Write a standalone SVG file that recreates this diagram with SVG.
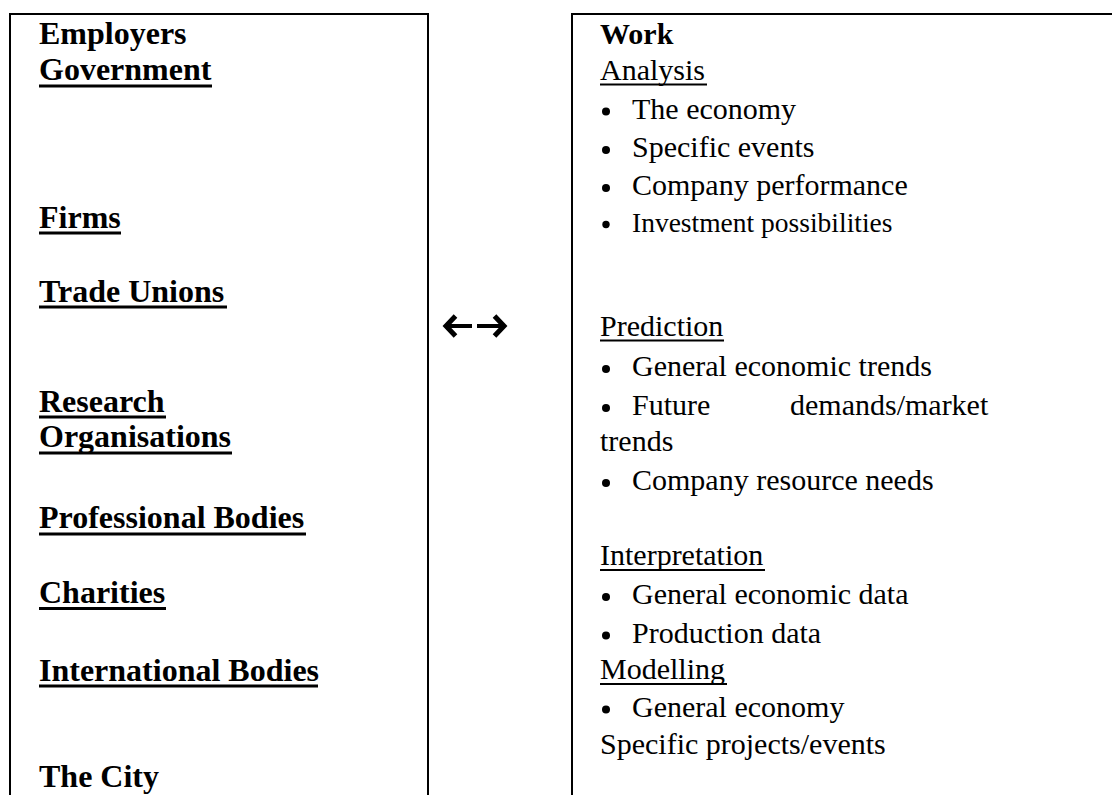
<svg xmlns="http://www.w3.org/2000/svg" width="1112" height="795" viewBox="0 0 1112 795">
<style>
.b{font-family:"Liberation Serif","Times New Roman",serif;font-weight:bold;font-size:32px;fill:#000}
.h{font-family:"Liberation Serif","Times New Roman",serif;font-weight:bold;font-size:30px;fill:#000}
.r{font-family:"Liberation Serif","Times New Roman",serif;font-size:30px;fill:#000}
.s{font-family:"Liberation Serif","Times New Roman",serif;font-size:27.5px;fill:#000}
.box{fill:none;stroke:#000;stroke-width:2}
.ub{stroke:#000;stroke-width:3}
.ur{stroke:#000;stroke-width:2}
.shaft{fill:none;stroke:#000;stroke-width:4}
.head{fill:none;stroke:#000;stroke-width:5;stroke-linejoin:miter;stroke-miterlimit:10}
</style>
<rect width="1112" height="795" fill="#fff"/>
<g id="employers">
<path class="box" d="M10,800 V14 H428 V800"/>
<text class="b" x="39" y="44">Employers</text>
<text class="b" x="39" y="80">Government</text>
<line class="ub" x1="39" y1="86" x2="212" y2="86"/>
<text class="b" x="39" y="228">Firms</text>
<line class="ub" x1="39" y1="233" x2="121" y2="233"/>
<text class="b" x="39" y="302">Trade Unions</text>
<line class="ub" x1="39" y1="307" x2="227" y2="307"/>
<text class="b" x="39" y="412">Research</text>
<line class="ub" x1="39" y1="417" x2="166" y2="417"/>
<text class="b" x="39" y="447">Organisations</text>
<line class="ub" x1="39" y1="453" x2="232" y2="453"/>
<text class="b" x="39" y="528">Professional Bodies</text>
<line class="ub" x1="39" y1="534" x2="306" y2="534"/>
<text class="b" x="39" y="603">Charities</text>
<line class="ub" x1="39" y1="608.5" x2="166" y2="608.5"/>
<text class="b" x="39" y="680.5">International Bodies</text>
<line class="ub" x1="39" y1="686" x2="318" y2="686"/>
<text class="b" x="39" y="787">The City</text>
</g>
<g id="connectors">
<path class="shaft" d="M448,326 H472 M477,326 H502"/>
<path class="head" d="M455.5,316 L446,326 L455.5,336"/>
<path class="head" d="M494.5,316 L504,326 L494.5,336"/>
</g>
<g id="work">
<path class="box" d="M572,800 V14 H1120"/>
<text class="h" x="600" y="44">Work</text>
<text class="r" x="600" y="80">Analysis</text>
<line class="ur" x1="600" y1="84.5" x2="707" y2="84.5"/>
<circle cx="606" cy="111.5" r="4"/>
<text class="r" x="632" y="118.5">The economy</text>
<circle cx="606" cy="150" r="4"/>
<text class="r" x="632" y="157">Specific events</text>
<circle cx="606" cy="188" r="4"/>
<text class="r" x="632" y="195">Company performance</text>
<circle cx="606" cy="224.5" r="3.7"/>
<text class="s" x="632" y="231.5">Investment possibilities</text>
<text class="r" x="600" y="336">Prediction</text>
<line class="ur" x1="600" y1="340.5" x2="724" y2="340.5"/>
<circle cx="606" cy="369" r="4"/>
<text class="r" x="632" y="376">General economic trends</text>
<circle cx="606" cy="408" r="4"/>
<text class="r" x="632" y="415">Future</text>
<text class="r" x="790" y="415">demands/market</text>
<text class="r" x="600" y="450.5">trends</text>
<circle cx="606" cy="483" r="4"/>
<text class="r" x="632" y="490">Company resource needs</text>
<text class="r" x="600" y="565">Interpretation</text>
<line class="ur" x1="600" y1="570" x2="765" y2="570"/>
<circle cx="606" cy="597" r="4"/>
<text class="r" x="632" y="604">General economic data</text>
<circle cx="606" cy="635.5" r="4"/>
<text class="r" x="632" y="642.5">Production data</text>
<text class="r" x="600" y="678.5">Modelling</text>
<line class="ur" x1="600" y1="684" x2="727" y2="684"/>
<circle cx="606" cy="709.5" r="4"/>
<text class="r" x="632" y="716.5">General economy</text>
<text class="r" x="600" y="753.5">Specific projects/events</text>
</g>
</svg>
